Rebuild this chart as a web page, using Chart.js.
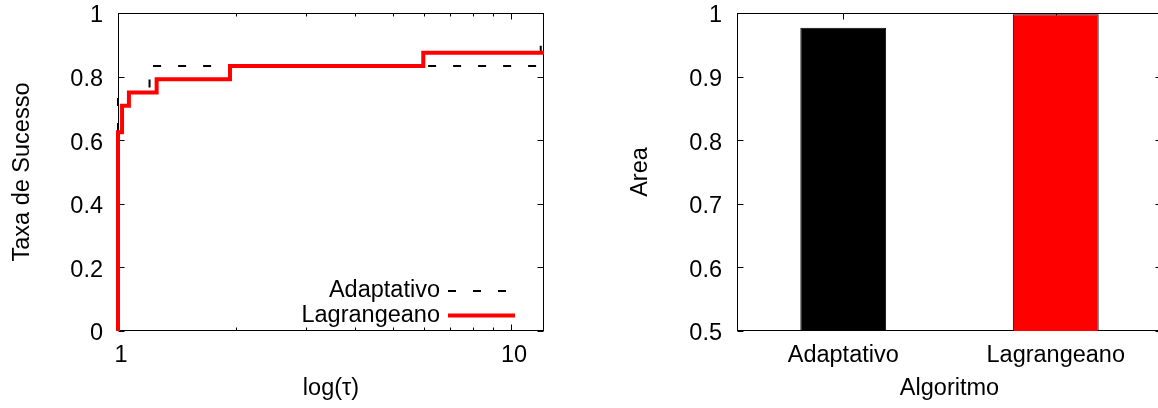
<!DOCTYPE html>
<html><head><meta charset="utf-8">
<script src="https://cdn.jsdelivr.net/npm/chart.js@4/dist/chart.umd.min.js"></script>
<style>
html,body{margin:0;padding:0;overflow:hidden;background:#fff;width:1158px;height:408px;position:relative}
#c1{position:absolute;left:0;top:0}
#c2{position:absolute;left:579px;top:0}
</style></head><body>
<canvas id="c1" width="579" height="408"></canvas>
<canvas id="c2" width="600" height="408"></canvas>
<script>
// ---- data ----
const seriesNames = ['Adaptativo', 'Lagrangeano'];
const adaptTau  = [1, 1, 1.203, 1.235, 11.9, 12.5];
const adaptRate = [0, 0.75, 0.792, 0.833, 0.917, 0.917];
const lagTau    = [1, 1, 1.024, 1.066, 1.254, 1.927, 5.98, 12.5];
const lagRate   = [0, 0.625, 0.708, 0.75, 0.792, 0.833, 0.875, 0.875];
const profileYTicks = [0, 0.2, 0.4, 0.6, 0.8, 1];
const profileXTicks = [1, 10];
const profileXMinor = [2, 3, 4, 5, 6, 7, 8, 9];
const algorithms = ['Adaptativo', 'Lagrangeano'];
const areaValues = [0.977, 0.998];
const areaYTicks = [0.5, 0.6, 0.7, 0.8, 0.9, 1];

Chart.defaults.font.family = "'Liberation Sans', Arial, Helvetica, sans-serif";
Chart.defaults.font.size = 23.5;
Chart.defaults.color = '#000';

const framePlugin = {
  id: 'frame',
  beforeDatasetsDraw(chart, args, o) {
    const {ctx, chartArea: a, scales} = chart;
    const L = Math.round(a.left) + 0.5, R = Math.round(a.right) - 0.5;
    const T = Math.round(a.top) + 0.5, B = Math.round(a.bottom) - 0.5;
    ctx.save();
    ctx.strokeStyle = '#000';
    ctx.lineWidth = 1;
    const seg = (x1, y1, x2, y2) => { ctx.beginPath(); ctx.moveTo(x1, y1); ctx.lineTo(x2, y2); ctx.stroke(); };
    ctx.strokeRect(L, T, R - L, B - T);
    const ys = scales.y;
    ys.ticks.forEach(t => {
      const p = Math.round(ys.getPixelForValue(t.value)) + 0.5;
      seg(L, p, L + 6, p); seg(R, p, R - 6, p);
    });
    const xs = scales.x;
    xs.ticks.forEach((t, i) => {
      const p = Math.round(xs.type === 'category' ? xs.getPixelForTick(i) : xs.getPixelForValue(t.value)) + 0.5;
      seg(p, B, p, B - 6); seg(p, T, p, T + 6);
    });
    (o.minor || []).forEach(v => {
      const p = Math.round(xs.getPixelForValue(v)) + 0.5;
      seg(p, B, p, B - 3); seg(p, T, p, T + 3);
    });
    ctx.restore();
  }
};

const profLegend = {
  id: 'profLegend',
  afterDatasetsDraw(chart, args, o) {
    const {ctx} = chart;
    ctx.save();
    ctx.font = "23.5px 'Liberation Sans', Arial, sans-serif";
    ctx.textAlign = 'right';
    ctx.textBaseline = 'middle';
    chart.data.datasets.forEach((ds, i) => {
      const y = o.y + i * o.dy;
      ctx.fillStyle = '#000';
      ctx.fillText(ds.label, o.textRight, y);
      ctx.strokeStyle = ds.borderColor;
      ctx.lineWidth = ds.borderWidth;
      ctx.setLineDash(ds.borderDash || []);
      ctx.beginPath();
      ctx.moveTo(o.x1, y); ctx.lineTo(o.x2, y);
      ctx.stroke();
    });
    ctx.restore();
  }
};

const pts = (xs, ys) => xs.map((x, i) => ({x: x, y: ys[i]}));
const noGrid = {display: false, drawTicks: false, tickLength: 0};

new Chart(document.getElementById('c1'), {
  type: 'line',
  data: {
    datasets: [
      {label: seriesNames[0], data: pts(adaptTau, adaptRate), borderColor: '#000', borderWidth: 2,
       borderDash: [8, 17], stepped: 'before', pointRadius: 0, fill: false, order: 1,
       clip: {left: 6, right: 0, top: 6, bottom: 6}},
      {label: seriesNames[1], data: pts(lagTau, lagRate), borderColor: '#ff0000', borderWidth: 4,
       stepped: 'before', pointRadius: 0, fill: false, order: 0,
       clip: {left: 6, right: 0, top: 6, bottom: 6}}
    ]
  },
  options: {
    responsive: false, animation: false,
    layout: {padding: {top: 13, right: 35, left: 0, bottom: 0}},
    plugins: {legend: {display: false}, tooltip: {enabled: false},
      frame: {minor: profileXMinor},
      profLegend: {textRight: 440, x1: 448, x2: 515, y: 291, dy: 24.5}},
    scales: {
      x: {type: 'logarithmic', min: 1, max: 12.13, grid: noGrid, border: {display: false},
        afterBuildTicks: s => { s.ticks = profileXTicks.map(v => ({value: v})); },
        afterFit: s => { s.height = 77; s.paddingLeft = 0; s.paddingRight = 0; },
        ticks: {padding: 10, labelOffset: 3, autoSkip: false, maxRotation: 0, callback: v => String(v)},
        title: {display: true, text: 'log(τ)', padding: {top: 0, bottom: 5}}},
      y: {min: 0, max: 1, grid: noGrid, border: {display: false},
        afterBuildTicks: s => { s.ticks = profileYTicks.map(v => ({value: v})); },
        afterFit: s => { s.width = 118; s.paddingTop = 0; s.paddingBottom = 0; },
        ticks: {padding: 15, labelOffset: 3, callback: v => String(+(+v).toFixed(1))},
        title: {display: true, text: 'Taxa de Sucesso', padding: {top: 8, bottom: 0}}}
    }
  },
  plugins: [framePlugin, profLegend]
});

new Chart(document.getElementById('c2'), {
  type: 'bar',
  data: {
    labels: algorithms,
    datasets: [{data: areaValues, backgroundColor: ['#000', '#ff0000'], borderColor: '#000',
      borderWidth: 1, barPercentage: 0.404, categoryPercentage: 1}]
  },
  options: {
    responsive: false, animation: false,
    layout: {padding: {top: 13, right: 17, left: 0, bottom: 0}},
    plugins: {legend: {display: false}, tooltip: {enabled: false}},
    scales: {
      x: {grid: Object.assign({offset: true}, noGrid), border: {display: false},
        afterFit: s => { s.height = 77; s.paddingLeft = 0; s.paddingRight = 0; },
        ticks: {padding: 10, maxRotation: 0, autoSkip: false},
        title: {display: true, text: 'Algoritmo', padding: {top: 0, bottom: 5}}},
      y: {min: 0.5, max: 1, grid: noGrid, border: {display: false},
        afterBuildTicks: s => { s.ticks = areaYTicks.map(v => ({value: v})); },
        afterFit: s => { s.width = 158; s.paddingTop = 0; s.paddingBottom = 0; },
        ticks: {padding: 15, labelOffset: 3, callback: v => String(+(+v).toFixed(1))},
        title: {display: true, text: 'Area', padding: {top: 47, bottom: 0}}}
    }
  },
  plugins: [framePlugin]
});
</script>
</body></html>
